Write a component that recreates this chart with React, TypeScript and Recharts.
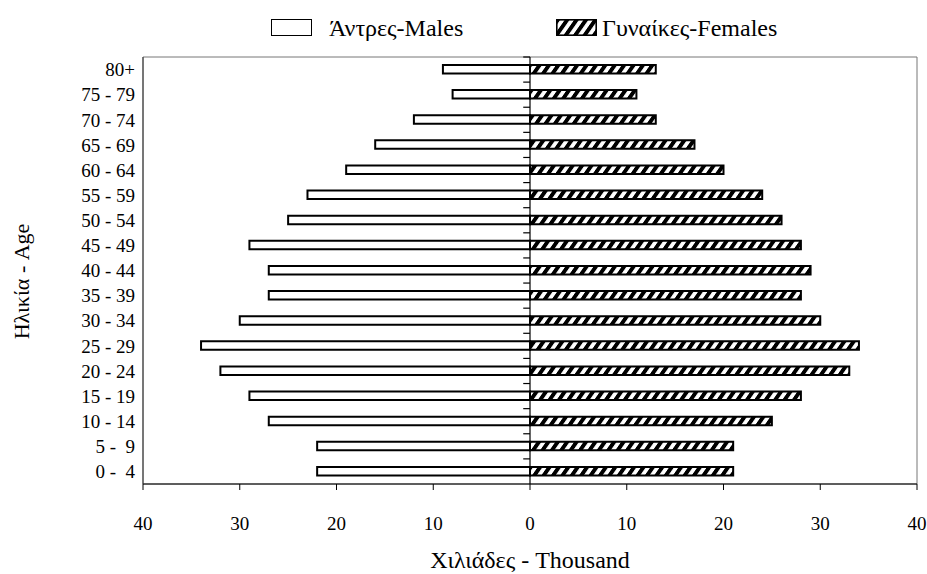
import React from 'react';
import {
  BarChart,
  Bar,
  XAxis,
  YAxis,
  ReferenceLine,
  ReferenceArea,
  Legend,
  Label,
} from 'recharts';

// Age groups, bottom (youngest) to top (oldest)
const ageGroups = [
  '0 -  4', '5 -  9', '10 - 14', '15 - 19', '20 - 24', '25 - 29', '30 - 34',
  '35 - 39', '40 - 44', '45 - 49', '50 - 54', '55 - 59', '60 - 64', '65 - 69',
  '70 - 74', '75 - 79', '80+',
];

// Thousands of persons
const malesValues = [22, 22, 27, 29, 32, 34, 30, 27, 27, 29, 25, 23, 19, 16, 12, 8, 9];
const femalesValues = [21, 21, 25, 28, 33, 34, 30, 28, 29, 28, 26, 24, 20, 17, 13, 11, 13];

const xTicks = [-40, -30, -20, -10, 0, 10, 20, 30, 40];

const maleLabel = 'Άντρες-Males';
const femaleLabel = 'Γυναίκες-Females';
const xTitle = 'Χιλιάδες - Thousand';
const yTitle = 'Ηλικία - Age';

const data = ageGroups.map((age, i) => ({
  age,
  males: -malesValues[i],
  females: femalesValues[i],
}));

const FONT = '"Liberation Serif", "Times New Roman", serif';

const hatchId = 'femaleHatch';

const legendText: React.CSSProperties = {
  position: 'absolute',
  top: 14,
  fontFamily: FONT,
  fontSize: 24,
  lineHeight: '28px',
  color: '#000',
  whiteSpace: 'nowrap',
};

const LegendContent = () => (
  <div style={{ position: 'relative', height: 0, width: 927, fontFamily: FONT }}>
    <div
      style={{
        position: 'absolute', left: 271, top: 19, width: 41, height: 17,
        boxSizing: 'border-box', border: '1.6px solid #000', background: '#fff',
      }}
    />
    <div style={{ ...legendText, left: 329 }}>{maleLabel}</div>
    <svg style={{ position: 'absolute', left: 556, top: 19 }} width={41} height={17}>
      <rect x={0.8} y={0.8} width={39.4} height={15.4} fill={`url(#${hatchId})`} stroke="#000" strokeWidth={1.6} />
    </svg>
    <div style={{ ...legendText, left: 602 }}>{femaleLabel}</div>
  </div>
);

const YTitle = (props: any) => {
  const vb = props.viewBox || { x: 0, y: 0, width: 0, height: 0 };
  const cx = vb.x + 21;
  const cy = vb.y + vb.height / 2 + 11;
  return (
    <text
      x={cx}
      y={cy}
      transform={`rotate(-90 ${cx} ${cy})`}
      textAnchor="middle"
      dominantBaseline="central"
      fontFamily={FONT}
      fontSize={22}
      fill="#000"
    >
      {yTitle}
    </text>
  );
};

const formatAge = (v: string) => String(v).replace(/  /g, '\u00A0 ');

export default function App() {
  return (
    <div style={{ position: 'absolute', left: 0, top: 0, width: 927, height: 574, background: '#fff' }}>
      <BarChart
        width={927}
        height={574}
        data={data}
        layout="vertical"
        stackOffset="sign"
        margin={{ top: 57, right: 10, bottom: 0, left: 0 }}
        barSize={8.5}
      >
        <defs>
          <pattern
            id={hatchId}
            width={9.4}
            height={9.4}
            patternUnits="userSpaceOnUse"
            patternTransform="skewX(-35)"
          >
            <rect x={0} y={0} width={9.4} height={9.4} fill="#fff" />
            <rect x={0} y={0} width={4.8} height={9.4} fill="#000" />
          </pattern>
        </defs>
        <ReferenceArea x1={-40} x2={40} fill="none" stroke="#777" strokeWidth={1} ifOverflow="visible" />
        <XAxis
          type="number"
          domain={[-40, 40]}
          ticks={xTicks}
          tickFormatter={(v: number) => String(Math.abs(v))}
          height={90}
          tickSize={6}
          tickMargin={27}
          axisLine={{ stroke: '#000' }}
          tickLine={{ stroke: '#000' }}
          tick={{ fill: '#000', fontSize: 19, fontFamily: FONT }}
          interval={0}
        >
          <Label
            value={xTitle}
            position="insideBottom"
            offset={6}
            style={{ fontFamily: FONT, fontSize: 24, fill: '#000' }}
          />
        </XAxis>
        <YAxis
          type="category"
          dataKey="age"
          reversed
          width={143}
          tickSize={0}
          tickMargin={8}
          axisLine={{ stroke: '#333' }}
          tickLine={false}
          interval={0}
          tickFormatter={formatAge}
          tick={{ fill: '#000', fontSize: 19, fontFamily: FONT }}
        >
          <Label content={YTitle} />
        </YAxis>
        <Legend verticalAlign="top" content={LegendContent} wrapperStyle={{ top: 0, left: 0, width: 927, height: 0 }} />
        <Bar dataKey="males" stackId="pop" fill="#fff" stroke="#000" strokeWidth={2} isAnimationActive={false} />
        <Bar dataKey="females" stackId="pop" fill={`url(#${hatchId})`} stroke="#000" strokeWidth={2} isAnimationActive={false} />
        <ReferenceLine x={0} stroke="#000" strokeWidth={1.2} />
        {ageGroups.map((age) => (
          <ReferenceLine
            key={age}
            segment={[{ x: -0.7, y: age }, { x: 0, y: age }]}
            position="start"
            stroke="#000"
            strokeWidth={1.2}
          />
        ))}
      </BarChart>
    </div>
  );
}
